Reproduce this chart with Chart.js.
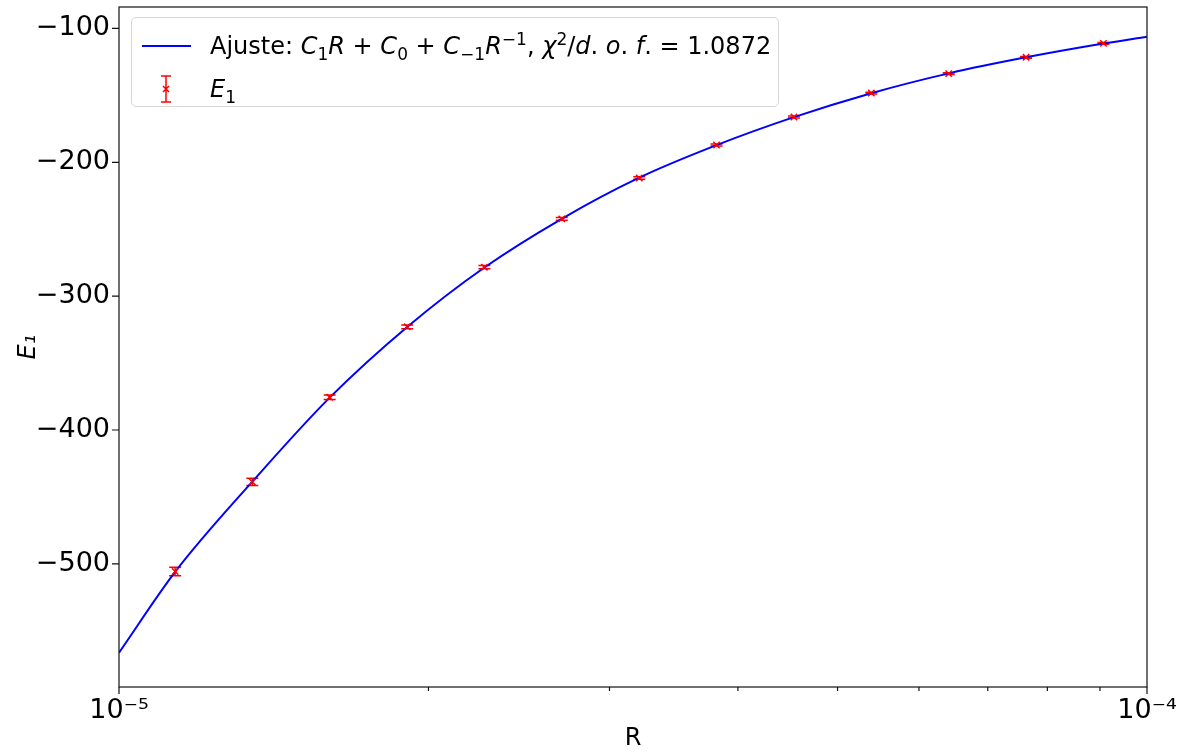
<!DOCTYPE html>
<html>
<head>
<meta charset="utf-8">
<script src="https://cdn.jsdelivr.net/npm/chart.js@4.4.0/dist/chart.umd.min.js"></script>
<style>
  html, body { margin: 0; padding: 0; background: #fff; }
  #wrap { position: relative; width: 1186px; height: 753px; }
  #legend {
    position: absolute; left: 131px; top: 17px; width: 646px; height: 88px;
    border: 1px solid #d6d6d6; border-radius: 5px; background: rgba(255,255,255,0.85);
    font-family: "DejaVu Sans", sans-serif; font-size: 24px; color: #000;
  }
  #legend .row { position: absolute; left: 78px; white-space: nowrap; line-height: 1; }
  #legend i { font-style: italic; }
  #legend sub, #legend sup { font-size: 17px; line-height: 0; }
  #legend .lineSample { position: absolute; left: 10px; top: 27px; width: 49px; height: 2px; background: #0000ff; }
</style>
</head>
<body>
<div id="wrap">
  <canvas id="chart" width="1186" height="753"></canvas>
  <div id="legend">
    <div class="lineSample"></div>
    <div class="row" style="top:16px">Ajuste: <i>C</i><sub>1</sub><i>R</i> + <i>C</i><sub>0</sub> + <i>C</i><sub>−1</sub><i>R</i><sup>−1</sup>, <i>χ</i><sup>2</sup>/<i>d</i>. <i>o</i>. <i>f</i>. = 1.0872</div>
    <canvas id="errIcon" width="40" height="40" style="position:absolute;left:14px;top:51px"></canvas>
    <div class="row" style="top:59px"><i>E</i><sub>1</sub></div>
  </div>
</div>
<script>
// measured points (R, E1, error)
const rValues = [1.134e-5, 1.348e-5, 1.603e-5, 1.907e-5, 2.267e-5, 2.696e-5, 3.207e-5,
                 3.813e-5, 4.535e-5, 5.393e-5, 6.414e-5, 7.627e-5, 9.07e-5];
const e1Values = [-505.7, -438.8, -375.6, -322.9, -278.4, -242.3, -211.7,
                  -187.1, -166.2, -148.3, -133.8, -121.6, -111.2];
const e1Errors = [3.2, 2.7, 1.7, 1.4, 1.2, 1.0, 0.9, 0.8, 0.8, 0.7, 0.7, 0.6, 0.6];

// fitted curve
const fitR = [1e-5, 1.134e-5, 1.348e-5, 1.603e-5, 1.907e-5, 2.267e-5, 2.696e-5, 3.207e-5,
              3.813e-5, 4.535e-5, 5.393e-5, 6.414e-5, 7.627e-5, 9.07e-5, 1e-4];
const fitE = [-566.4, -506.0, -438.6, -375.8, -323.0, -278.6, -242.2, -211.5,
              -187.2, -166.3, -148.4, -133.6, -121.6, -111.3, -106.2];

const yTicks = [-500, -400, -300, -200, -100];
const xMajor = [1e-5, 1e-4];
const xMinor = [2e-5, 3e-5, 4e-5, 5e-5, 6e-5, 7e-5, 8e-5, 9e-5];

const tickFont = { family: 'DejaVu Sans', size: 27 };

// small legend icon for the error bar series
(function () {
  const c = document.getElementById('errIcon').getContext('2d');
  c.strokeStyle = '#ff0000'; c.lineWidth = 1.5;
  c.beginPath();
  c.moveTo(20, 7); c.lineTo(20, 33);
  c.moveTo(15, 7); c.lineTo(25, 7);
  c.moveTo(15, 33); c.lineTo(25, 33);
  c.moveTo(17, 17); c.lineTo(23, 23);
  c.moveTo(23, 17); c.lineTo(17, 23);
  c.stroke();
})();

// error bars + frame + ticks
const extras = {
  id: 'extras',
  beforeDatasetsDraw(chart) {
    const ctx = chart.ctx;
    const x = chart.scales.x, y = chart.scales.y;
    ctx.save();
    ctx.strokeStyle = '#ff0000';
    ctx.lineWidth = 1.5;
    rValues.forEach((r, i) => {
      const px = x.getPixelForValue(r);
      const top = y.getPixelForValue(e1Values[i] + e1Errors[i]);
      const bot = y.getPixelForValue(e1Values[i] - e1Errors[i]);
      ctx.beginPath();
      ctx.moveTo(px, top); ctx.lineTo(px, bot);
      ctx.moveTo(px - 6, top); ctx.lineTo(px + 6, top);
      ctx.moveTo(px - 6, bot); ctx.lineTo(px + 6, bot);
      ctx.stroke();
    });
    ctx.restore();
  },
  afterDraw(chart) {
    const ctx = chart.ctx;
    const a = chart.chartArea;
    const x = chart.scales.x, y = chart.scales.y;
    ctx.save();
    ctx.strokeStyle = '#111';
    ctx.lineWidth = 1.2;
    ctx.strokeRect(a.left, a.top, a.right - a.left, a.bottom - a.top);
    ctx.beginPath();
    xMajor.forEach(v => {
      const px = x.getPixelForValue(v);
      ctx.moveTo(px, a.bottom); ctx.lineTo(px, a.bottom + 7);
    });
    xMinor.forEach(v => {
      const px = x.getPixelForValue(v);
      ctx.moveTo(px, a.bottom); ctx.lineTo(px, a.bottom + 4);
    });
    yTicks.forEach(v => {
      const py = y.getPixelForValue(v);
      ctx.moveTo(a.left, py); ctx.lineTo(a.left - 7, py);
    });
    ctx.stroke();
    ctx.restore();
  }
};

new Chart(document.getElementById('chart'), {
  type: 'scatter',
  data: {
    datasets: [
      {
        label: 'Ajuste',
        data: fitR.map((r, i) => ({ x: r, y: fitE[i] })),
        showLine: true,
        borderColor: '#0000ff',
        borderWidth: 2,
        pointRadius: 0,
        cubicInterpolationMode: 'monotone',
        order: 2
      },
      {
        label: 'E1',
        data: rValues.map((r, i) => ({ x: r, y: e1Values[i] })),
        showLine: false,
        pointStyle: 'crossRot',
        pointRadius: 4.5,
        borderColor: '#ff0000',
        borderWidth: 1.5,
        order: 1
      }
    ]
  },
  options: {
    responsive: false,
    animation: false,
    layout: { padding: { top: 7, right: 39, left: 0, bottom: 0 } },
    plugins: { legend: { display: false }, tooltip: { enabled: false } },
    scales: {
      x: {
        type: 'logarithmic',
        min: 1e-5,
        max: 1e-4,
        grid: { display: false },
        border: { display: false },
        afterBuildTicks: s => { s.ticks = xMajor.map(v => ({ value: v })); },
        afterFit: s => { s.height = 66; s.paddingLeft = 0; s.paddingRight = 0; },
        ticks: {
          color: '#000',
          font: tickFont,
          padding: 0,
          maxRotation: 0,
          callback: v => (v === 1e-5 ? '10⁻⁵' : v === 1e-4 ? '10⁻⁴' : '')
        },
        title: { display: true, text: 'R', color: '#000', font: { family: 'DejaVu Sans', size: 24 }, padding: 0 }
      },
      y: {
        min: -592,
        max: -84,
        grid: { display: false },
        border: { display: false },
        afterBuildTicks: s => { s.ticks = yTicks.map(v => ({ value: v })); },
        afterFit: s => { s.width = 119; s.paddingTop = 0; s.paddingBottom = 0; },
        ticks: {
          color: '#000',
          font: tickFont,
          padding: 1,
          callback: v => '−' + Math.abs(v)
        },
        title: { display: true, text: 'E₁', color: '#000', font: { family: 'DejaVu Sans', size: 24, style: 'italic' }, padding: { top: 14, bottom: 0 } }
      }
    }
  },
  plugins: [extras]
});
</script>
</body>
</html>
